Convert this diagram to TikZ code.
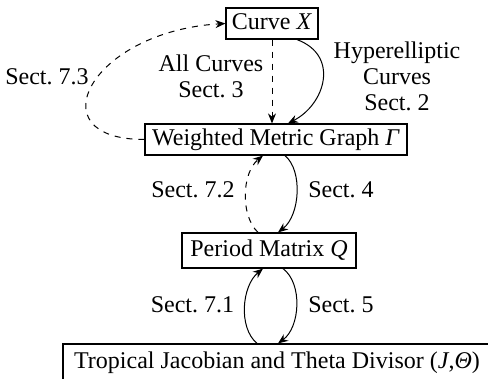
\documentclass[tikz,border=0pt]{standalone}
\usepackage{fontspec}
\setmainfont{Liberation Serif}
\usepackage{tikz}
\usetikzlibrary{arrows.meta, calc}

\begin{document}
\begin{tikzpicture}[x=0.5pt, y=-0.5pt,
		every node/.style={font=\fontsize{12}{13}\selectfont},
		box/.style={draw, line width=0.6pt, inner sep=0pt, text height=8.5pt, text depth=2.5pt, minimum height=15.5pt},
		lbl/.style={align=center, inner sep=0pt},
		arr/.style={-{Stealth[length=5pt, width=4pt]}, line width=0.5pt}]
			\useasboundingbox (0,0) rectangle (488,379);
			
			% boxes
			\node[box, minimum width=46pt] (curve) at (272,23.5) {Curve \textit{X}};
			\node[box, minimum width=131pt] (graph) at (276,139.5) {Weighted Metric Graph \textit{Γ}};
			\node[box, minimum width=87pt, minimum height=17.5pt] (period) at (269,250.5) {Period Matrix \textit{Q}};
			\node[box, minimum width=214pt, minimum height=19pt] (jac) at (277,363) {Tropical Jacobian and Theta Divisor (\textit{J},\textit{Θ})};
			
			% labels
			\node[lbl] (hyp) at (397,76) {Hyperelliptic\\Curves\\Sect.~2};
			\node[lbl] (all) at (211,76) {All Curves\\Sect.~3};
			\node[lbl] (s73) at (47,77) {Sect.~7.3};
			\node[lbl] (s72) at (193,190) {Sect.~7.2};
			\node[lbl] (s4) at (341,190) {Sect.~4};
			\node[lbl] (s71) at (192.5,305) {Sect.~7.1};
			\node[lbl] (s5) at (341,305) {Sect.~5};
			
			% arrows
			\draw[arr, dashed] (graph.west) .. controls +(-110,0) and +(-135,8) .. (curve.west);
			\draw[arr, dashed] (curve.south) -- (curve.south |- graph.north);
			\draw[arr] ($(curve.south)+(25,0)$) .. controls +(43,16) and +(37,-19) .. ($(graph.north)+(12,0)$);
			\draw[arr] ($(graph.south)+(9,0)$) .. controls +(18,15) and +(22,-17) .. ($(period.north)+(9,0)$);
			\draw[arr, dashed] ($(period.north)+(-11,0)$) .. controls +(-18,-17) and +(-21,17) .. ($(graph.south)+(-13,0)$);
			\draw[arr] ($(period.south)+(14,0)$) .. controls +(20,15) and +(22,-16) .. ($(jac.north)+(1,0)$);
			\draw[arr] ($(jac.north)+(-20,0)$) .. controls +(-19,-16) and +(-21,17) .. ($(period.south)+(-6,0)$);
\end{tikzpicture}
\end{document}
